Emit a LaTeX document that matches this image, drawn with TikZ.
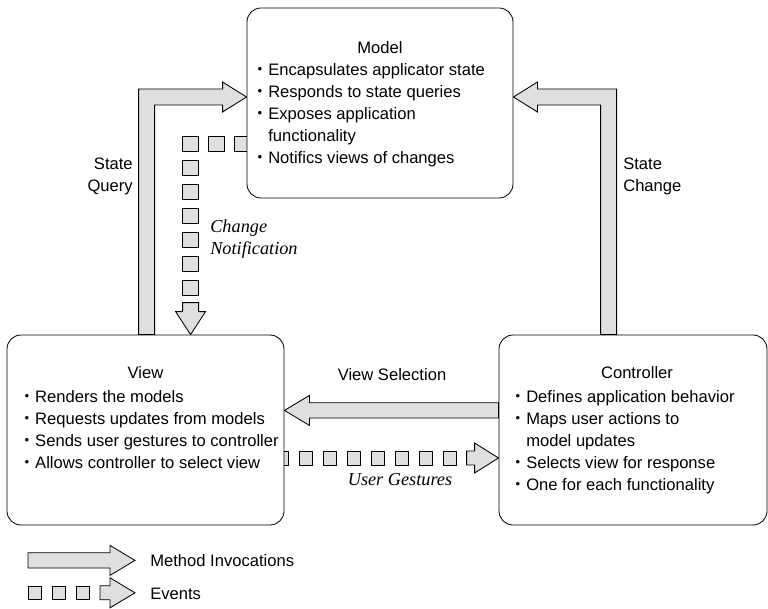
\documentclass[tikz,border=0pt]{standalone}
\usepackage{fontspec}
\setmainfont{Liberation Sans}
\newfontfamily\cjk{Noto Sans CJK JP}
\newfontfamily\romanit{Liberation Serif}
\usetikzlibrary{positioning,calc,backgrounds}

\newcommand{\bul}{{\cjk ・}}
\newcommand{\bulsp}{\hphantom{\cjk ・}}

\begin{document}
\begin{tikzpicture}[
  mvcbox/.style={draw, rounded corners=0.35cm, fill=white, line width=0.6pt, minimum height=4.75cm, inner sep=0pt},
  fatarrow/.style={draw, fill=gray!25, line width=0.6pt},
  evsquare/.style={draw, fill=gray!25, line width=0.6pt},
  boxtitle/.style={font=\fontsize{11.8}{15.6}\selectfont, inner sep=0pt},
  bullets/.style={font=\fontsize{11.8}{15.6}\selectfont, align=left, inner sep=0pt, anchor=north west},
  arrlabel/.style={font=\fontsize{11.8}{15.6}\selectfont, inner sep=0pt},
  evlabel/.style={font=\romanit\itshape\fontsize{13}{15.6}\selectfont, inner sep=0pt}
]
  \useasboundingbox (0,0) rectangle (19.2,15.2);

  % Model, View, Controller
  \node[mvcbox, minimum width=6.65cm] (model) at (9.5,12.625) {};
  \node[mvcbox, minimum width=6.925cm] (view) at (3.6375,4.45) {};
  \node[mvcbox, minimum width=6.7cm] (ctrl) at (15.825,4.45) {};

  \node[boxtitle] (modeltitle) at ($(model.north)+(0,-1.0)$) {Model};
  \node[bullets] (modellist) at ($(model.north west)+(0.12,-1.4)$)
    {\bul Encapsulates applicator state\\\bul Responds to state queries\\\bul Exposes application\\\bulsp functionality\\\bul Notifics views of changes};

  \node[boxtitle] (viewtitle) at ($(view.north)+(0,-0.95)$) {View};
  \node[bullets] (viewlist) at ($(view.north west)+(0.295,-1.4)$)
    {\bul Renders the models\\\bul Requests updates from models\\\bul Sends user gestures to controller\\\bul Allows controller to select view};

  \node[boxtitle] (ctrltitle) at ($(ctrl.north)+(0.1,-0.95)$) {Controller};
  \node[bullets] (ctrllist) at ($(ctrl.north west)+(0.27,-1.4)$)
    {\bul Defines application behavior\\\bul Maps user actions to\\\bulsp model updates\\\bul Selects view for response\\\bul One for each functionality};

  % Anchor points of the arrows
  \coordinate (sqfoot) at ($(view.north west)+(3.5,0)$);
  \coordinate (sqtip) at ($(model.west)+(0,0.15)$);
  \coordinate (scfoot) at ($(ctrl.north west)+(2.75,0)$);
  \coordinate (sctip) at ($(model.east)+(0,0.15)$);
  \coordinate (vstip) at ($(view.east)+(0,0.49)$);
  \coordinate (vstail) at ($(ctrl.west)+(0,0.49)$);
  \coordinate (cntip) at ($(view.north west)+(4.6,0)$);
  \coordinate (ugtip) at ($(ctrl.west)+(0,-0.7)$);

  \begin{scope}[on background layer]
    % State Query
    \draw[fatarrow] ($(sqfoot)+(-0.2,0)$) |- ($(sqtip)+(-0.6,0.2)$) -- ++(0,0.175) -- (sqtip)
      -- ++(-0.6,-0.375) -- ++(0,0.175) -| ($(sqfoot)+(0.2,0)$) -- cycle;
    % State Change
    \draw[fatarrow] ($(scfoot)+(0.2,0)$) |- ($(sctip)+(0.6,0.2)$) -- ++(0,0.175) -- (sctip)
      -- ++(0.6,-0.375) -- ++(0,0.175) -| ($(scfoot)+(-0.2,0)$) -- cycle;
    % View Selection
    \draw[fatarrow] ($(vstail)+(0,0.19)$) -- ($(vstip)+(0.625,0.19)$) -- ++(0,0.185) -- (vstip)
      -- ++(0.625,-0.375) -- ++(0,0.185) -- ($(vstail)+(0,-0.19)$) -- cycle;

    % Change Notification
    \foreach \k in {0,...,6}
      \draw[evsquare] ($(cntip)+(0,1.175+0.6*\k)$) +(-0.2,-0.19) rectangle +(0.2,0.19);
    \foreach \k in {1,2}
      \draw[evsquare] ($(cntip)+(0.65*\k,4.775)$) +(-0.2,-0.19) rectangle +(0.2,0.19);
    \draw[fatarrow] ($(cntip)+(-0.2,0.8)$) -- ++(0,-0.225) -- ++(-0.175,0) -- (cntip)
      -- ++(0.375,0.575) -- ++(-0.175,0) -- ++(0,0.225) -- cycle;

    % User Gestures
    \foreach \i in {0,...,7}
      \draw[evsquare] ($(ugtip)+(-1.225-0.6*\i,0)$) +(-0.165,-0.175) rectangle +(0.165,0.175);
    \draw[fatarrow] ($(ugtip)+(-0.8,0.175)$) -- ++(0.2,0) -- ++(0,0.2) -- (ugtip)
      -- ++(-0.6,-0.375) -- ++(0,0.2) -- ++(-0.2,0) -- cycle;
  \end{scope}

  % Arrow labels
  \node[arrlabel, align=right, anchor=east] (sqlabel) at (3.325,10.8) {State\\Query};
  \node[arrlabel, align=left, anchor=west] (sclabel) at (15.575,10.8) {State\\Change};
  \node[arrlabel] (vslabel) at (9.8,5.825) {View Selection};
  \node[evlabel, align=left, anchor=west] (cnlabel) at (5.25,9.225) {Change\\Notification};
  \node[evlabel] (uglabel) at (10.0,3.2) {User Gestures};

  % Legend
  \coordinate (mitail) at (0.7,1.19);
  \coordinate (mitip) at (3.375,1.19);
  \draw[fatarrow] ($(mitail)+(0,0.19)$) -- ($(mitip)+(-0.625,0.19)$) -- ++(0,0.185) -- (mitip)
    -- ++(-0.625,-0.375) -- ++(0,0.185) -- ($(mitail)+(0,-0.19)$) -- cycle;
  \node[arrlabel, anchor=west] (milabel) at (3.75,1.19) {Method Invocations};

  \coordinate (evtip) at (3.375,0.38);
  \foreach \i in {0,1,2}
    \draw[evsquare] ($(evtip)+(-2.5+0.6*\i,0)$) +(-0.16,-0.16) rectangle +(0.16,0.16);
  \draw[fatarrow] ($(evtip)+(-0.875,0.175)$) -- ++(0.25,0) -- ++(0,0.2) -- (evtip)
    -- ++(-0.625,-0.375) -- ++(0,0.2) -- ++(-0.25,0) -- cycle;
  \node[arrlabel, anchor=west] (evlegend) at (3.75,0.35) {Events};
\end{tikzpicture}
\end{document}
